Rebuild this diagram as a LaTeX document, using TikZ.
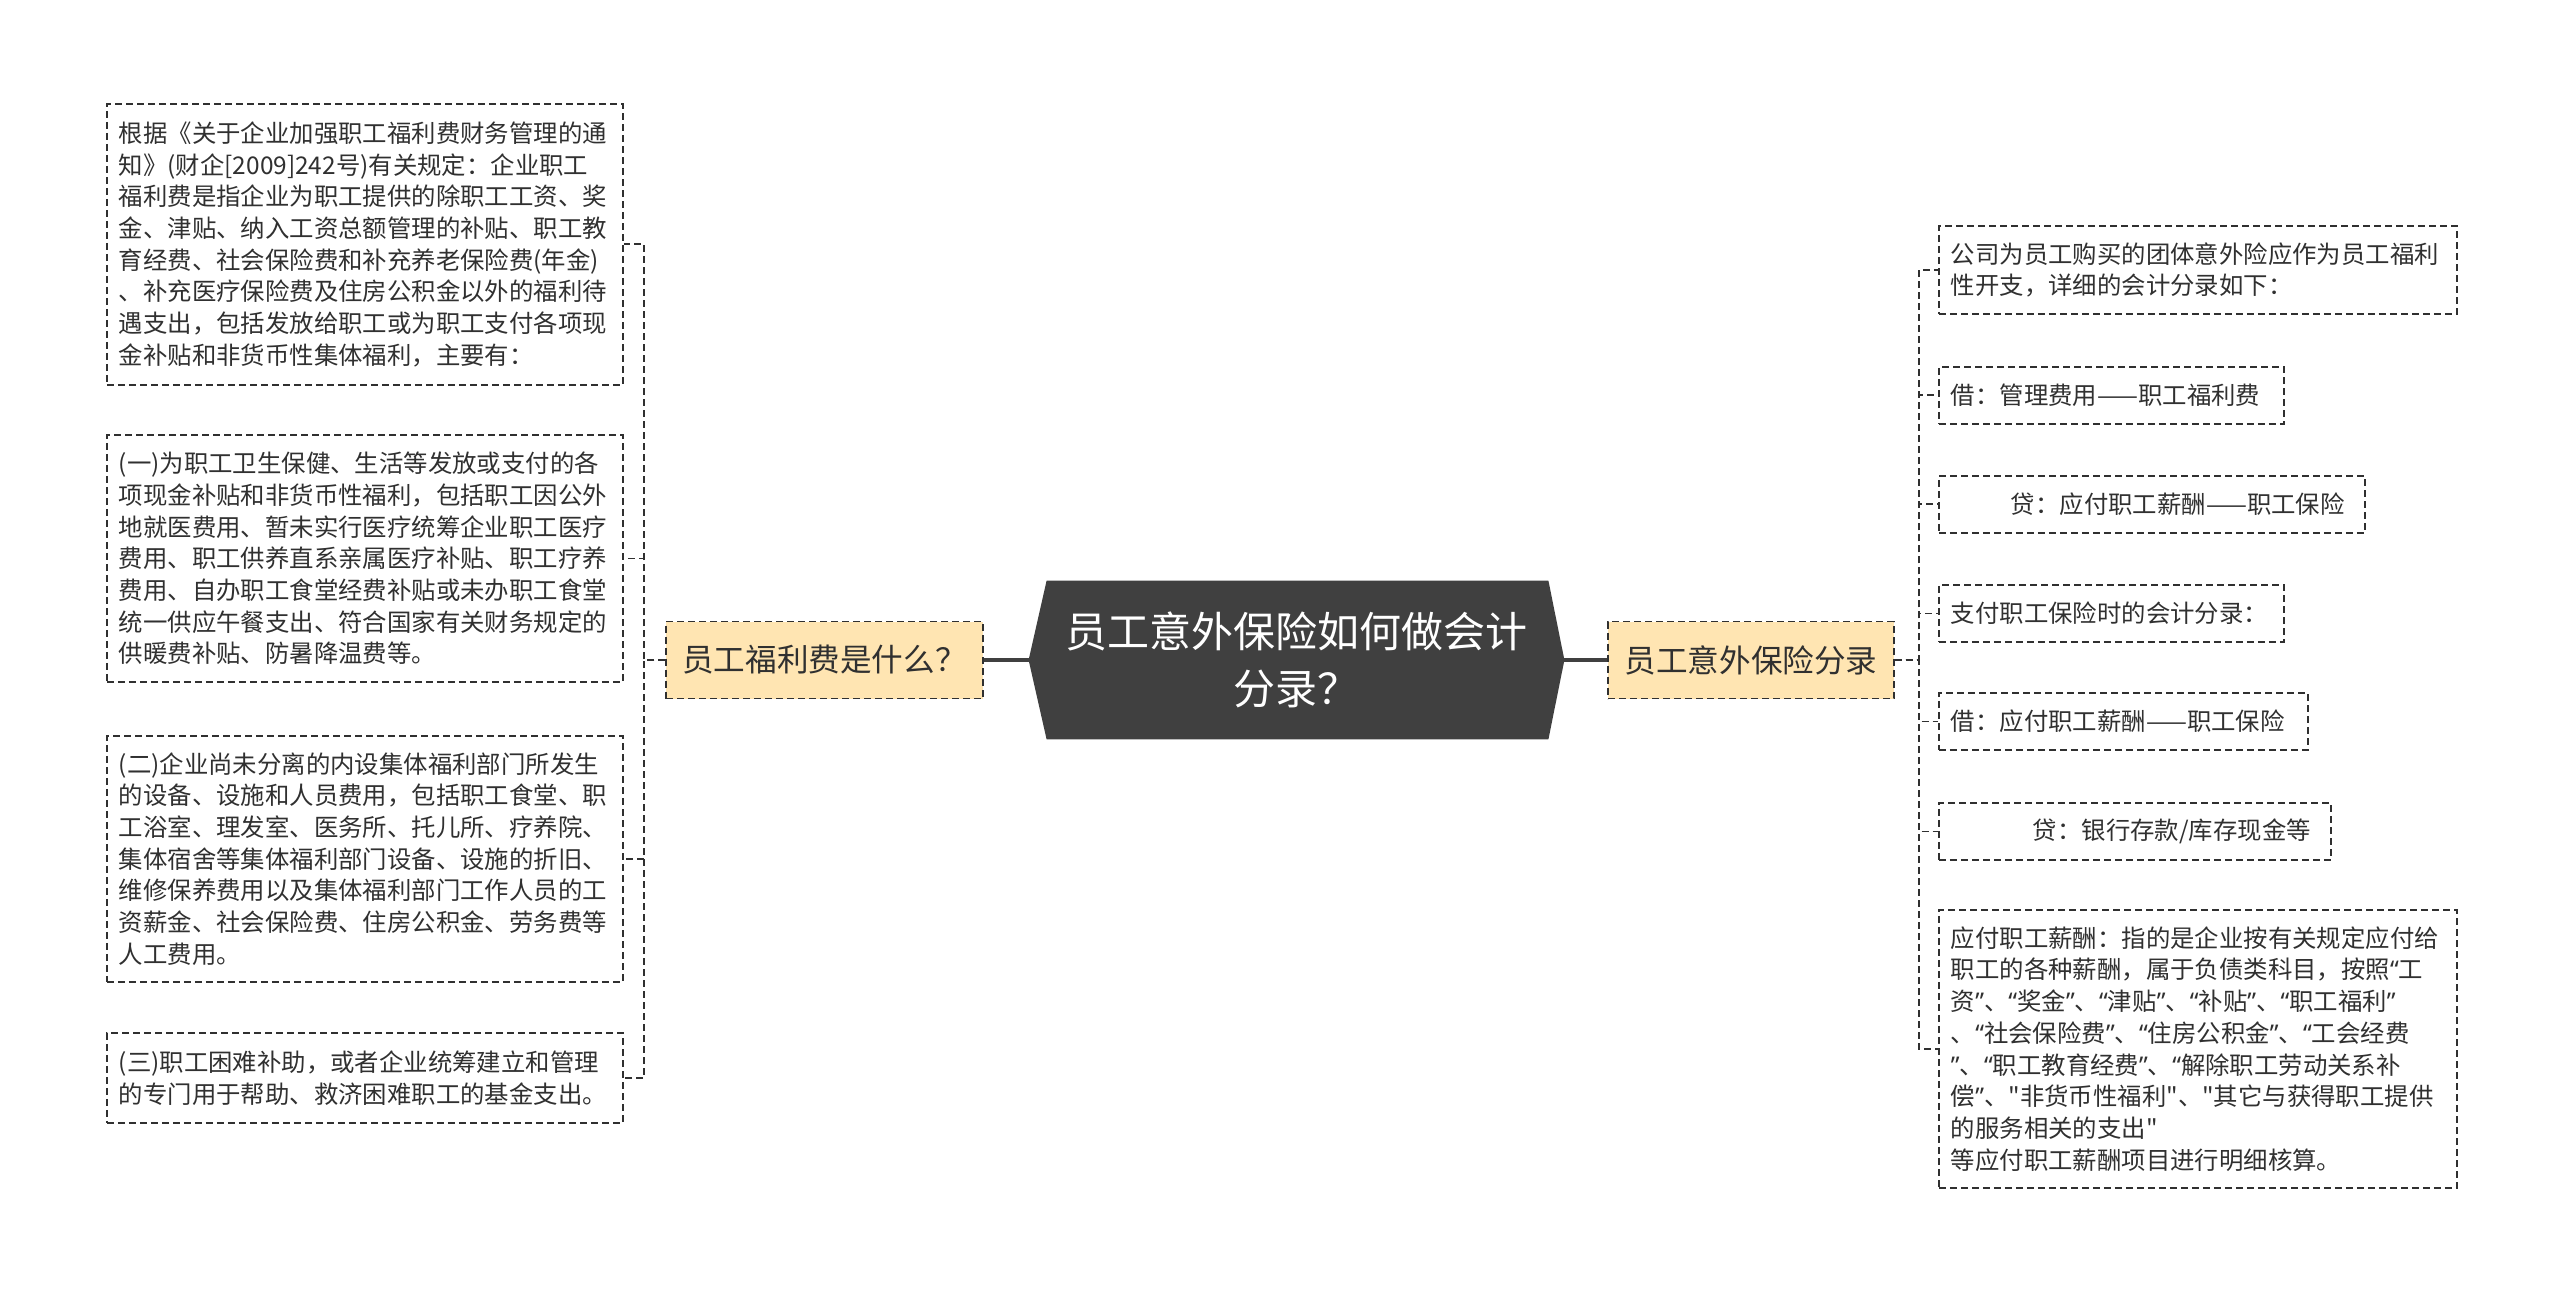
\documentclass[tikz,border=0pt]{standalone}
\usepackage{fontspec}
\setmainfont{Noto Sans CJK SC}[Ligatures=TeXOff]
\newfontfamily\quotefont{Noto Sans}[Ligatures=TeXOff]
\newcommand{\qo}{{\quotefont “}}
\newcommand{\qc}{{\quotefont ”}}
\definecolor{titlegray}{RGB}{64, 64, 64}
\definecolor{sandfill}{RGB}{255, 229, 178}
\definecolor{inkgray}{RGB}{48, 48, 48}
\usetikzlibrary{positioning, calc, backgrounds}

\begin{document}
\begin{tikzpicture}[x=0.5pt, y=-0.5pt,
  note/.style={draw=inkgray, line width=0.9pt, dash pattern=on 3.5pt off 2pt, text=inkgray, anchor=north west, inner xsep=6pt, inner ysep=0pt, align=left, font=\fontsize{12.2pt}{15.85pt}\selectfont},
  topic/.style={draw=inkgray, fill=sandfill, line width=0.9pt, dash pattern=on 3.5pt off 2pt, text=inkgray, inner sep=0pt, minimum height=38.5pt, font=\fontsize{15.8pt}{19pt}\selectfont},
  twig/.style={draw=inkgray, line width=0.9pt, dash pattern=on 3.5pt off 2pt},
  trunk/.style={draw=titlegray, line width=1.7pt}]
  \useasboundingbox (0,0) rectangle (2560,1294);

  \node[text=white, inner sep=0pt, minimum width=267.5pt, minimum height=79pt, align=center, font=\fontsize{21pt}{28.6pt}\selectfont] (title) at (1296.5,660) {员工意外保险如何做会计\\分录？};
  \begin{scope}[on background layer]
    \fill[titlegray] (title.west) -- ($(title.north west)+(18,0)$) -- ($(title.north east)+(-16,0)$) -- (title.east) -- ($(title.south east)+(-16,0)$) -- ($(title.south west)+(18,0)$) -- cycle;
  \end{scope}

  \node[topic, minimum width=158.5pt] (what) at (824.5,660) {员工福利费是什么？};
  \node[topic, minimum width=143pt] (sect) at (1751,660) {员工意外保险分录};

  \node[note, text width=246pt, minimum height=140.5pt] (l1) at (106,103) {根据《关于企业加强职工福利费财务管理的通\\知》(财企[2009]242号)有关规定：企业职工\\福利费是指企业为职工提供的除职工工资、奖\\金、津贴、纳入工资总额管理的补贴、职工教\\育经费、社会保险费和补充养老保险费(年金)\\、补充医疗保险费及住房公积金以外的福利待\\遇支出，包括发放给职工或为职工支付各项现\\金补贴和非货币性集体福利，主要有：};
  \node[note, text width=246pt, minimum height=123.5pt] (l2) at (106,434) {(一)为职工卫生保健、生活等发放或支付的各\\项现金补贴和非货币性福利，包括职工因公外\\地就医费用、暂未实行医疗统筹企业职工医疗\\费用、职工供养直系亲属医疗补贴、职工疗养\\费用、自办职工食堂经费补贴或未办职工食堂\\统一供应午餐支出、符合国家有关财务规定的\\供暖费补贴、防暑降温费等。};
  \node[note, text width=246pt, minimum height=123pt] (l3) at (106,735) {(二)企业尚未分离的内设集体福利部门所发生\\的设备、设施和人员费用，包括职工食堂、职\\工浴室、理发室、医务所、托儿所、疗养院、\\集体宿舍等集体福利部门设备、设施的折旧、\\维修保养费用以及集体福利部门工作人员的工\\资薪金、社会保险费、住房公积金、劳务费等\\人工费用。};
  \node[note, text width=246pt, minimum height=45pt] (l4) at (106,1032) {(三)职工困难补助，或者企业统筹建立和管理\\的专门用于帮助、救济困难职工的基金支出。};

  \node[note, text width=247pt, minimum height=44pt] (r1) at (1938,225) {公司为员工购买的团体意外险应作为员工福利\\性开支，详细的会计分录如下：};
  \node[note, text width=160.5pt, minimum height=28.5pt] (r2) at (1938,366) {借：管理费用——职工福利费};
  \node[note, text width=201pt, minimum height=28.5pt] (r3) at (1938,475) {\hspace*{30pt}贷：应付职工薪酬——职工保险};
  \node[note, text width=160.5pt, minimum height=28.5pt] (r4) at (1938,584) {支付职工保险时的会计分录：};
  \node[note, text width=172.5pt, minimum height=28.5pt] (r5) at (1938,692) {借：应付职工薪酬——职工保险};
  \node[note, text width=184pt, minimum height=28.5pt] (r6) at (1938,802) {\hspace*{41pt}贷：银行存款/库存现金等};
  \node[note, text width=247pt, minimum height=139pt] (r7) at (1938,909) {应付职工薪酬：指的是企业按有关规定应付给\\职工的各种薪酬，属于负债类科目，按照\qo 工\\资\qc 、\qo 奖金\qc 、\qo 津贴\qc 、\qo 补贴\qc 、\qo 职工福利\qc\\、\qo 社会保险费\qc 、\qo 住房公积金\qc 、\qo 工会经费\\\qc 、\qo 职工教育经费\qc 、\qo 解除职工劳动关系补\\偿\qc 、"非货币性福利"、"其它与获得职工提供\\的服务相关的支出"\\等应付职工薪酬项目进行明细核算。};

  \draw[trunk] (title.west) -- (what.east);
  \draw[trunk] (title.east) -- (sect.west);
  \foreach \n in {l1, l2, l3, l4}
    \draw[twig] (what.west) -- ++(-21,0) |- (\n.east);
  \foreach \n in {r1, r2, r3, r4, r5, r6, r7}
    \draw[twig] (sect.east) -- ++(24,0) |- (\n.west);
\end{tikzpicture}
\end{document}
